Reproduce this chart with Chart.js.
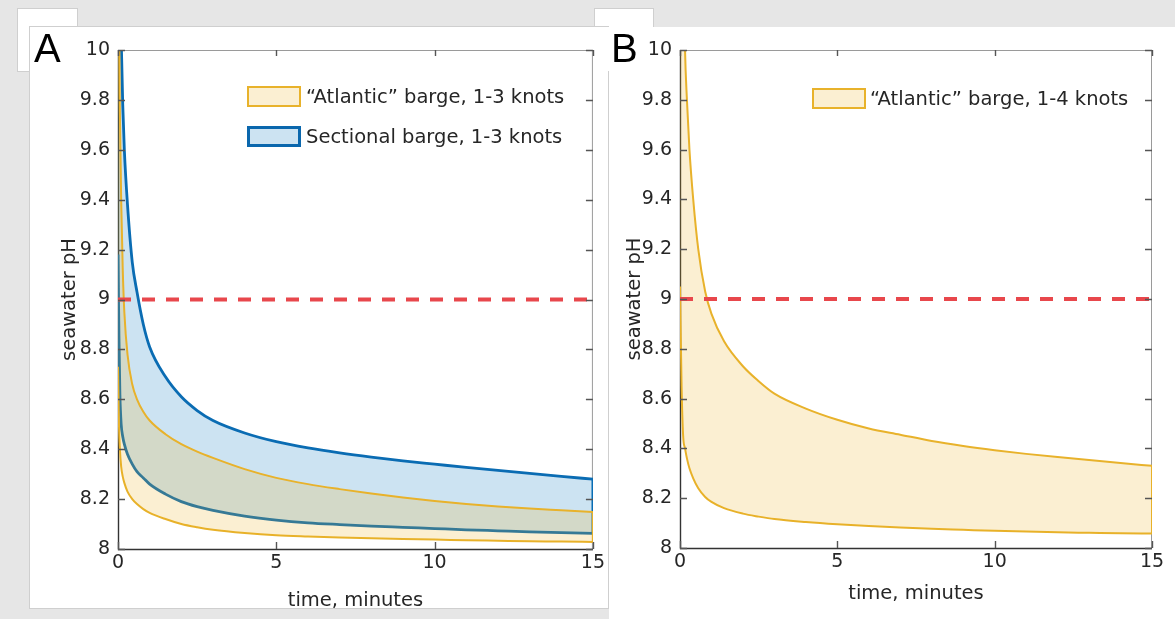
<!DOCTYPE html>
<html>
<head>
<meta charset="utf-8">
<script src="https://cdn.jsdelivr.net/npm/chart.js@4.4.1/dist/chart.umd.min.js"></script>
<style>
  body { margin: 0; width: 1175px; height: 619px; background: #e6e6e6; position: relative; overflow: hidden; font-family: "DejaVu Sans", sans-serif; color: #262626; }
  .panel { position: absolute; background: #fff; overflow: hidden; }
  #panelA { left: 30px; top: 27px; width: 578px; height: 581px; box-shadow: 0 0 0 1px #cfcfcf; }
  #panelB { left: 609px; top: 27px; width: 566px; height: 592px; }
  .tab { position: absolute; background: #fff; }
  #tabA { left: 18px; top: 9px; width: 59px; height: 62px; box-shadow: 0 0 0 1px #cfcfcf; }
  #tabB { left: 595px; top: 9px; width: 58px; height: 18px; box-shadow: 0 0 0 1px #cfcfcf; }
  #tabB2 { left: 595px; top: 27px; width: 14px; height: 44px; }
  .letter { position: absolute; top: 28px; font-family: "Liberation Sans", sans-serif; font-size: 40px; line-height: 40px; color: #000; }
  canvas { position: absolute; left: 0; top: 0; }
  .swatch { position: absolute; width: 54px; height: 21px; box-sizing: border-box; }
  .ltext { position: absolute; font-size: 19.5px; line-height: 22px; white-space: nowrap; color: #262626; }
</style>
</head>
<body>
<div class="tab" id="tabA"></div>
<div class="tab" id="tabB"></div>
<div class="panel" id="panelA"><canvas id="chartA" width="578" height="600"></canvas></div>
<div class="tab" id="tabB2"></div>
<div class="panel" id="panelB"><canvas id="chartB" width="566" height="592"></canvas></div>
<div class="letter" style="left:34px">A</div>
<div class="letter" style="left:611px">B</div>

<!-- legends -->
<div class="swatch" style="left:247px;top:86px;border:2px solid #e8b22b;background:#fbefd2"></div>
<div class="ltext" style="left:306px;top:86px">“Atlantic” barge, 1-3 knots</div>
<div class="swatch" style="left:247px;top:126px;border:3px solid #0a67ad;background:#cce3f2"></div>
<div class="ltext" style="left:306px;top:126px">Sectional barge, 1-3 knots</div>
<div class="swatch" style="left:812px;top:88px;border:2px solid #e8b22b;background:#fbefd2"></div>
<div class="ltext" style="left:870px;top:88px">“Atlantic” barge, 1-4 knots</div>

<script>
// axis ticks
const xTickValues = [0, 5, 10, 15];
const xTickLabels = ['0', '5', '10', '15'];
const yTickValues = [8, 8.2, 8.4, 8.6, 8.8, 9, 9.2, 9.4, 9.6, 9.8, 10];
const yTickLabels = ['8', '8.2', '8.4', '8.6', '8.8', '9', '9.2', '9.4', '9.6', '9.8', '10'];
const thresholdPH = 9;

// Panel A: time (minutes) and pH bounds, 1-3 knots
const timeA = [0, 0.03, 0.06, 0.1, 0.15, 0.2, 0.3, 0.45, 0.6, 0.8, 1, 1.5, 2, 2.5, 3, 4, 5, 6, 7, 8, 9, 10, 11, 12, 13, 14, 15];
const atlanticUpperA = [11.5, 10.2, 9.75, 9.4, 9.12, 8.95, 8.78, 8.66, 8.6, 8.55, 8.515, 8.46, 8.42, 8.39, 8.365, 8.32, 8.285, 8.26, 8.24, 8.222, 8.206, 8.192, 8.18, 8.17, 8.162, 8.155, 8.148];
const atlanticLowerA = [8.73, 8.5, 8.4, 8.33, 8.29, 8.265, 8.23, 8.2, 8.18, 8.16, 8.145, 8.12, 8.1, 8.087, 8.077, 8.064, 8.055, 8.05, 8.046, 8.043, 8.04, 8.038, 8.035, 8.033, 8.031, 8.03, 8.028];
const sectionalUpperA = [12, 11, 10.4, 10.05, 9.78, 9.6, 9.38, 9.15, 9.03, 8.9, 8.81, 8.69, 8.61, 8.555, 8.515, 8.465, 8.43, 8.405, 8.385, 8.368, 8.353, 8.34, 8.327, 8.315, 8.303, 8.291, 8.28];
const sectionalLowerA = [9.18, 8.85, 8.62, 8.5, 8.45, 8.42, 8.38, 8.34, 8.31, 8.285, 8.26, 8.22, 8.19, 8.17, 8.155, 8.132, 8.116, 8.105, 8.098, 8.092, 8.087, 8.082, 8.077, 8.073, 8.069, 8.066, 8.063];

// Panel B: 1-4 knots
const timeB = [0, 0.05, 0.1, 0.16, 0.22, 0.3, 0.42, 0.58, 0.8, 1, 1.4, 2, 2.5, 3, 4, 5, 6, 7, 8, 9, 10, 11, 12, 13, 14, 15];
const atlanticUpperB = [12.5, 11.2, 10.45, 10.0, 9.8, 9.6, 9.4, 9.2, 9.03, 8.94, 8.83, 8.73, 8.67, 8.62, 8.56, 8.515, 8.48, 8.455, 8.43, 8.41, 8.393, 8.378, 8.365, 8.353, 8.341, 8.33];
const atlanticLowerB = [9.05, 8.65, 8.45, 8.4, 8.36, 8.32, 8.28, 8.24, 8.205, 8.185, 8.16, 8.138, 8.126, 8.116, 8.104, 8.095, 8.088, 8.082, 8.077, 8.073, 8.069, 8.066, 8.063, 8.061, 8.059, 8.058];

const YELLOW = '#e8b22b';
const YELLOW_FILL = 'rgba(237, 177, 32, 0.2)';
const BLUE = '#0a6cb3';
const BLUE_FILL = 'rgba(0, 114, 189, 0.2)';
const RED = '#e8474c';
const FONT = 'DejaVu Sans';

const toPoints = (times, values) => times.map((t, i) => ({ x: t, y: values[i] }));

// closing vertical edge of a band at the last time step
const edgeAt = (times, upper, lower) => {
  const i = times.length - 1;
  return [{ x: times[i], y: upper[i] }, { x: times[i], y: lower[i] }];
};

const curve = (data, color, width, fill, bg) => ({
  data, borderColor: color, borderWidth: width, fill: fill || false,
  backgroundColor: bg || 'transparent', cubicInterpolationMode: 'monotone', pointRadius: 0
});

const straight = (data, color, width, dash) => ({
  data, borderColor: color, borderWidth: width, borderDash: dash || [], fill: false, pointRadius: 0, tension: 0
});

const thresholdLine = () => straight([{ x: xTickValues[0], y: thresholdPH }, { x: xTickValues[xTickValues.length - 1], y: thresholdPH }], RED, 4, [13, 11]);

// MATLAB-like box: frame under the data, inward ticks on top
const axesBox = {
  id: 'axesBox',
  beforeDatasetsDraw(chart) {
    const { ctx, chartArea: a } = chart;
    ctx.save();
    ctx.lineWidth = 1;
    ctx.strokeStyle = '#9a9a9a';
    ctx.beginPath();
    ctx.moveTo(a.left, a.top + 0.5); ctx.lineTo(a.right, a.top + 0.5);
    ctx.moveTo(a.right - 0.5, a.top); ctx.lineTo(a.right - 0.5, a.bottom);
    ctx.stroke();
    ctx.strokeStyle = '#333';
    ctx.lineWidth = 1.4;
    ctx.beginPath();
    ctx.moveTo(a.left + 0.5, a.top); ctx.lineTo(a.left + 0.5, a.bottom + 0.5); ctx.lineTo(a.right, a.bottom + 0.5);
    ctx.stroke();
    ctx.restore();
  },
  afterDatasetsDraw(chart) {
    const { ctx, chartArea: a, scales: { x, y } } = chart;
    ctx.save();
    ctx.lineWidth = 1.4;
    ctx.strokeStyle = '#555';
    ctx.beginPath();
    x.ticks.forEach(t => {
      const px = Math.round(x.getPixelForValue(t.value)) + 0.5;
      ctx.moveTo(px, a.bottom); ctx.lineTo(px, a.bottom - 7);
      ctx.moveTo(px, a.top); ctx.lineTo(px, a.top + 6);
    });
    y.ticks.forEach(t => {
      const py = Math.round(y.getPixelForValue(t.value)) + 0.5;
      ctx.moveTo(a.left, py); ctx.lineTo(a.left + 7, py);
      ctx.moveTo(a.right, py); ctx.lineTo(a.right - 7, py);
    });
    ctx.stroke();
    ctx.restore();
  }
};

const makePanel = (canvasId, datasets, box) => new Chart(document.getElementById(canvasId), {
  type: 'line',
  data: { datasets },
  options: {
    responsive: false,
    animation: false,
    devicePixelRatio: 1,
    layout: { padding: { left: 0, top: box.top, right: box.right, bottom: 0 } },
    plugins: { legend: { display: false }, tooltip: { enabled: false } },
    scales: {
      x: {
        type: 'linear', min: xTickValues[0], max: xTickValues[xTickValues.length - 1],
        afterBuildTicks: s => { s.ticks = xTickValues.map(v => ({ value: v })); },
        afterFit: s => { s.height = box.xHeight; },
        grid: { display: false, drawTicks: false },
        border: { display: false },
        ticks: { autoSkip: false, maxRotation: 0, padding: 3, color: '#262626', font: { family: FONT, size: 19 }, callback: (v, i) => xTickLabels[i] },
        title: { display: true, text: 'time, minutes', color: '#262626', font: { family: FONT, size: 19.5 }, padding: { top: 0, bottom: box.xTitlePad } }
      },
      y: {
        type: 'linear', min: yTickValues[0], max: yTickValues[yTickValues.length - 1],
        afterBuildTicks: s => { s.ticks = yTickValues.map(v => ({ value: v })); },
        afterFit: s => { s.width = box.yWidth; },
        grid: { display: false, drawTicks: false },
        border: { display: false },
        ticks: { autoSkip: false, padding: 8, color: '#262626', font: { family: FONT, size: 19 }, callback: (v, i) => yTickLabels[i] },
        title: { display: true, text: 'seawater pH', color: '#262626', font: { family: FONT, size: 19.5 }, padding: { top: box.yTitlePad, bottom: 0 } }
      }
    }
  },
  plugins: [axesBox]
});

// index 0 is drawn on top
makePanel('chartA', [
  thresholdLine(),
  curve(toPoints(timeA, atlanticUpperA), YELLOW, 2, '+1', YELLOW_FILL),
  curve(toPoints(timeA, atlanticLowerA), YELLOW, 2),
  straight(edgeAt(timeA, atlanticUpperA, atlanticLowerA), YELLOW, 2),
  curve(toPoints(timeA, sectionalUpperA), BLUE, 2.8, '+1', BLUE_FILL),
  curve(toPoints(timeA, sectionalLowerA), BLUE, 2.8),
  straight(edgeAt(timeA, sectionalUpperA, sectionalLowerA), BLUE, 2.8)
], { top: 23, right: 15, xHeight: 78, xTitlePad: 14.6, yWidth: 88, yTitlePad: 27.8 });

makePanel('chartB', [
  thresholdLine(),
  curve(toPoints(timeB, atlanticUpperB), YELLOW, 2, '+1', YELLOW_FILL),
  curve(toPoints(timeB, atlanticLowerB), YELLOW, 2),
  straight(edgeAt(timeB, atlanticUpperB, atlanticLowerB), YELLOW, 2)
], { top: 23, right: 23, xHeight: 71, xTitlePad: 13.6, yWidth: 71, yTitlePad: 13.8 });
</script>
</body>
</html>
